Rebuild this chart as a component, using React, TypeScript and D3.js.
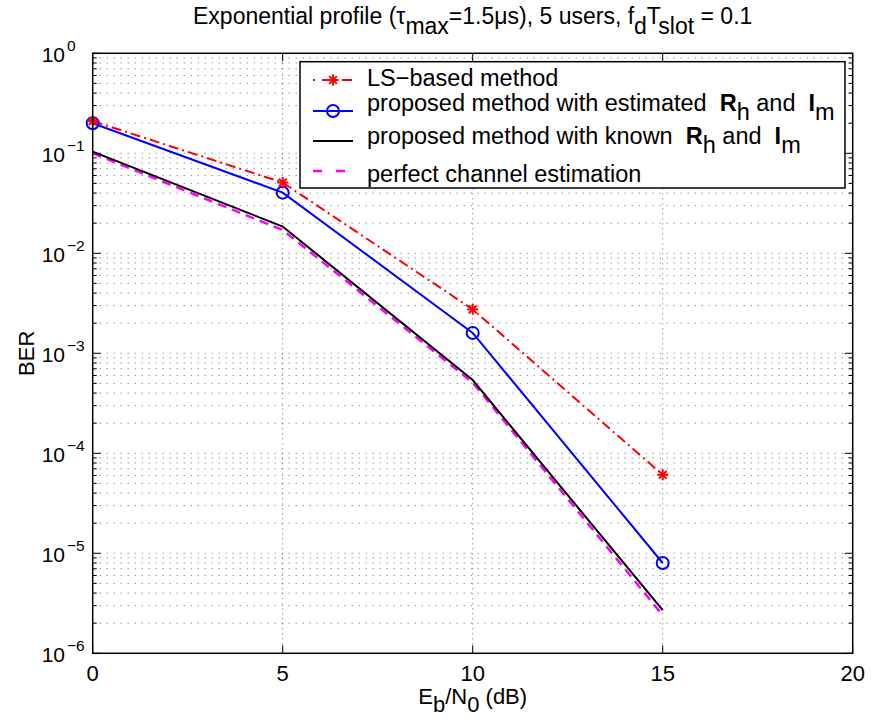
import React from "react";
import * as d3 from "d3";

const snr = [0, 5, 10, 15];
const berLS = [0.21, 0.051, 0.00275, 6.1e-5];
const berEst = [0.2, 0.0404, 0.0016, 8.0e-6];
const berKnown = [0.104, 0.0185, 5.4e-4, 2.7e-6];
const berPerfect = [0.1, 0.0171, 5.1e-4, 2.4e-6];
const xTicks = [0, 5, 10, 15, 20];
const yExponents = [0, -1, -2, -3, -4, -5, -6];

const W = 871;
const H = 719;
const FONT = "'Liberation Sans', Arial, Helvetica, sans-serif";

const x = d3.scaleLinear().domain([0, 20]).range([92.7, 852.7]);
const y = d3.scaleLog().domain([1e-6, 1]).range([653.3, 53.3]);

const line = d3
  .line<number>()
  .x((_, i) => x(snr[i]))
  .y((d) => y(d));

function Star({ cx, cy, r, color }: { cx: number; cy: number; r: number; color: string }) {
  const d = r * 0.7071;
  return (
    <g stroke={color} strokeWidth={2}>
      <line x1={cx - r} y1={cy} x2={cx + r} y2={cy} />
      <line x1={cx} y1={cy - r} x2={cx} y2={cy + r} />
      <line x1={cx - d} y1={cy - d} x2={cx + d} y2={cy + d} />
      <line x1={cx - d} y1={cy + d} x2={cx + d} y2={cy - d} />
    </g>
  );
}

export default function App() {
  const [x0, x1] = x.range();
  const [yb, yt] = y.range();
  const minor: number[] = [];
  for (let e = -6; e < 0; e++) {
    for (let k = 2; k <= 9; k++) minor.push(k * Math.pow(10, e));
  }
  const majorY = yExponents.map((e) => Math.pow(10, e));
  const gridStyle = { stroke: "#000", strokeOpacity: 0.6, strokeWidth: 1, strokeDasharray: "1 6" };

  const LS_DASH = "10 4 2 4";
  const MAG_DASH = "9 6";

  const legendX1 = 313;
  const legendX2 = 353;
  const legendTx = 367;
  const legFont = 23.5;

  return (
    <div style={{ position: "absolute", left: 0, top: 0 }}>
      <svg width={W} height={H} style={{ display: "block", background: "#fff" }} fontFamily={FONT}>
        <rect x={0} y={0} width={W} height={H} fill="#fff" />
        <rect x={x0} y={yt} width={x1 - x0} height={yb - yt} fill="#fff" />
        {/* grid */}
        <g>
          {minor.map((v, i) => (
            <line key={"mg" + i} x1={x0} x2={x1} y1={y(v)} y2={y(v)} {...gridStyle} />
          ))}
          {majorY.slice(1, -1).map((v, i) => (
            <line key={"Mg" + i} x1={x0} x2={x1} y1={y(v)} y2={y(v)} {...gridStyle} />
          ))}
          {xTicks.slice(1, -1).map((v, i) => (
            <line key={"xg" + i} x1={x(v)} x2={x(v)} y1={yt} y2={yb} {...gridStyle} strokeDasharray="1 4" />
          ))}
        </g>
        {/* ticks */}
        <g stroke="#000" strokeWidth={1}>
          {xTicks.map((v, i) => (
            <g key={"xt" + i}>
              <line x1={x(v)} x2={x(v)} y1={yb} y2={yb - 8} />
              <line x1={x(v)} x2={x(v)} y1={yt} y2={yt + 8} />
            </g>
          ))}
          {majorY.map((v, i) => (
            <g key={"yt" + i}>
              <line x1={x0} x2={x0 + 8} y1={y(v)} y2={y(v)} />
              <line x1={x1} x2={x1 - 8} y1={y(v)} y2={y(v)} />
            </g>
          ))}
          {minor.map((v, i) => (
            <g key={"ymt" + i}>
              <line x1={x0} x2={x0 + 4} y1={y(v)} y2={y(v)} />
              <line x1={x1} x2={x1 - 4} y1={y(v)} y2={y(v)} />
            </g>
          ))}
        </g>
        {/* data lines */}
        <path d={line(berPerfect) || ""} fill="none" stroke="#ff00ff" strokeWidth={2.5} strokeDasharray={MAG_DASH} />
        <path d={line(berKnown) || ""} fill="none" stroke="#000" strokeWidth={2} />
        <path d={line(berEst) || ""} fill="none" stroke="#0000ff" strokeWidth={2} />
        <path d={line(berLS) || ""} fill="none" stroke="#ff0000" strokeWidth={2} strokeDasharray={LS_DASH} />
        {berEst.map((v, i) => (
          <circle key={"c" + i} cx={x(snr[i])} cy={y(v)} r={6} fill="none" stroke="#0000ff" strokeWidth={2} />
        ))}
        {berLS.map((v, i) => (
          <Star key={"s" + i} cx={x(snr[i])} cy={y(v)} r={5.5} color="#ff0000" />
        ))}
        {/* axes box */}
        <rect x={x0} y={yt} width={x1 - x0} height={yb - yt} fill="none" stroke="#000" strokeWidth={1.5} />
        {/* x tick labels */}
        {xTicks.map((v, i) => (
          <text key={"xl" + i} x={x(v)} y={681} textAnchor="middle" fontSize={22}>
            {v}
          </text>
        ))}
        {/* y tick labels */}
        {yExponents.map((e, i) => (
          <g key={"yl" + i}>
            <text x={65} y={y(Math.pow(10, e)) + 9} textAnchor="end" fontSize={21}>
              10
            </text>
            <text x={67} y={y(Math.pow(10, e)) - 2.5} textAnchor="start" fontSize={15.5}>
              {e === 0 ? "0" : "\u2212" + Math.abs(e)}
            </text>
          </g>
        ))}
        {/* axis labels */}
        <text x={(x0 + x1) / 2} y={704} textAnchor="middle" fontSize={22} style={{ whiteSpace: "pre" }}>
          E<tspan dy={8}>b</tspan>
          <tspan dy={-8}>/N</tspan>
          <tspan dy={8}>0</tspan>
          <tspan dy={-8}> (dB)</tspan>
        </text>
        <text transform={`translate(34,${(yt + yb) / 2}) rotate(-90)`} textAnchor="middle" fontSize={22}>
          BER
        </text>
        {/* title */}
        <text x={(x0 + x1) / 2} y={24} textAnchor="middle" fontSize={23} style={{ whiteSpace: "pre" }}>
          Exponential profile (τ<tspan dy={10}>max</tspan>
          <tspan dy={-10}>=1.5μs), 5 users, f</tspan>
          <tspan dy={10}>d</tspan>
          <tspan dy={-10}>T</tspan>
          <tspan dy={10}>slot</tspan>
          <tspan dy={-10}> = 0.1</tspan>
        </text>
        {/* legend */}
        <g>
          <rect x={300} y={61.7} width={545} height={126.3} fill="#fff" stroke="#000" strokeWidth={1.5} />
          <line x1={legendX1} x2={legendX2} y1={80} y2={80} stroke="#ff0000" strokeWidth={2} strokeDasharray="2 7 10 4 2 4 10 4" />
          <Star cx={(legendX1 + legendX2) / 2} cy={80} r={5.5} color="#ff0000" />
          <text x={legendTx} y={85.8} fontSize={legFont}>LS−based method</text>

          <line x1={legendX1} x2={legendX2} y1={111} y2={111} stroke="#0000ff" strokeWidth={2} />
          <circle cx={(legendX1 + legendX2) / 2} cy={111} r={6} fill="none" stroke="#0000ff" strokeWidth={2} />
          <text x={legendTx} y={111.3} fontSize={legFont} style={{ whiteSpace: "pre" }}>
            proposed method with estimated  <tspan fontWeight="bold">R</tspan>
            <tspan dy={9}>h</tspan>
            <tspan dy={-9}> and  </tspan>
            <tspan fontWeight="bold">I</tspan>
            <tspan dy={9}>m</tspan>
          </text>

          <line x1={legendX1} x2={legendX2} y1={141} y2={141} stroke="#000" strokeWidth={2} />
          <text x={legendTx} y={144} fontSize={legFont} style={{ whiteSpace: "pre" }}>
            proposed method with known  <tspan fontWeight="bold">R</tspan>
            <tspan dy={9}>h</tspan>
            <tspan dy={-9}> and  </tspan>
            <tspan fontWeight="bold">I</tspan>
            <tspan dy={9}>m</tspan>
          </text>

          <line x1={legendX1} x2={legendX2} y1={171} y2={171} stroke="#ff00ff" strokeWidth={2.5} strokeDasharray="9 14 9" />
          <text x={legendTx} y={181.5} fontSize={legFont}>perfect channel estimation</text>
        </g>
      </svg>
    </div>
  );
}
